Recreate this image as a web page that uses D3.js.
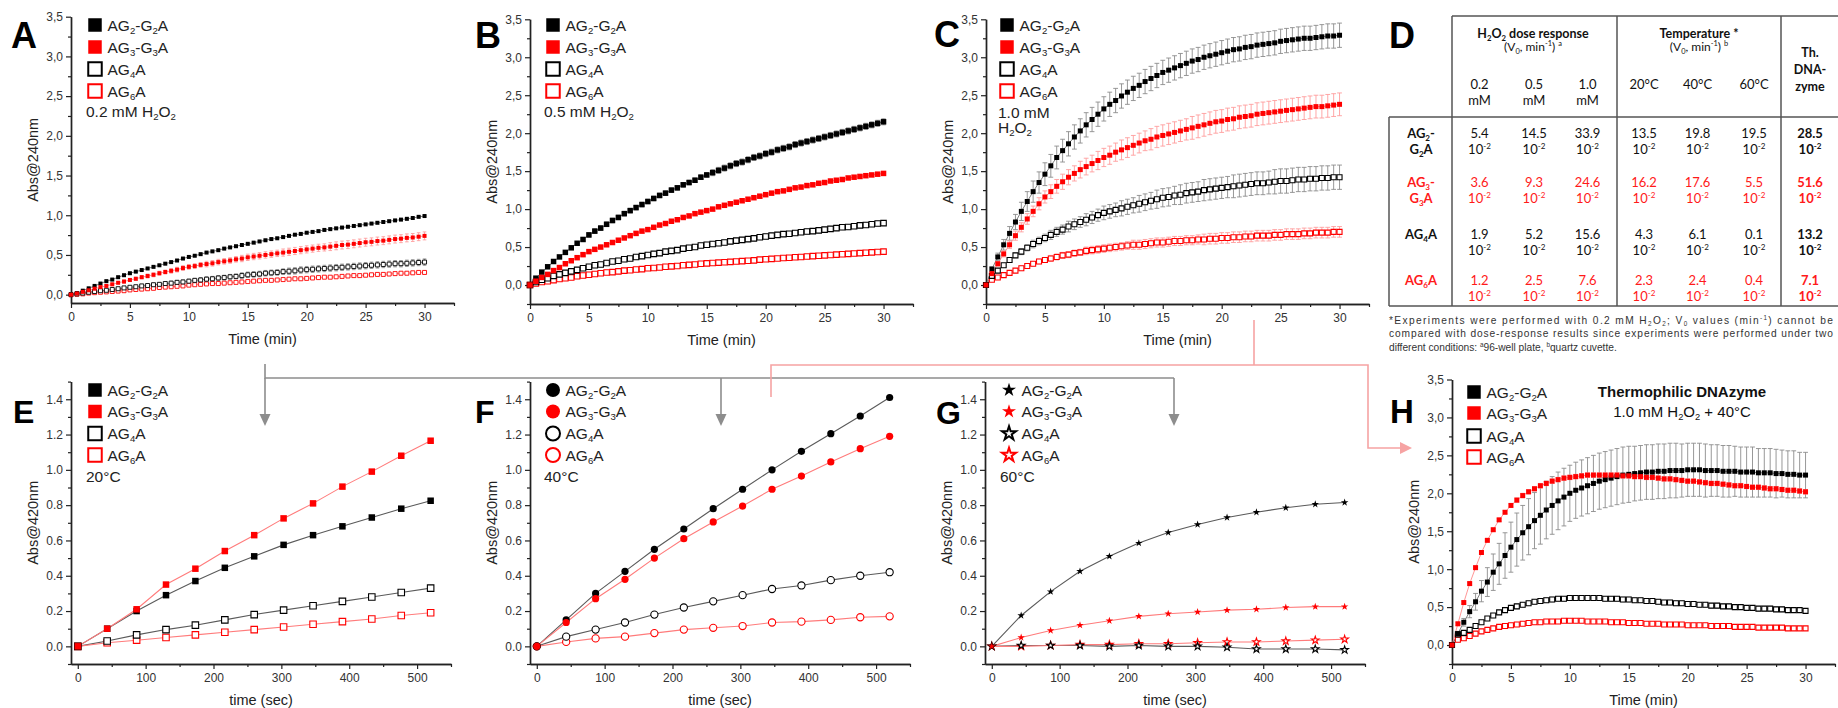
<!DOCTYPE html>
<html><head><meta charset="utf-8">
<script src="https://cdn.jsdelivr.net/npm/d3@7/dist/d3.min.js"></script>
<style>
body{margin:0;background:#fff;}
svg{display:block;font-family:"Liberation Sans",Arial,sans-serif;}
</style></head><body>
<svg id="fig" width="1838" height="708"></svg>
<script>
// ---------- data ----------
const seriesNames = ["AG{_2}-G{_2}A", "AG{_3}-G{_3}A", "AG{_4}A", "AG{_6}A"];

const tMin = [0,0.5,1,1.5,2,2.5,3,3.5,4,4.5,5,5.5,6,6.5,7,7.5,8,8.5,9,9.5,10,10.5,11,11.5,12,12.5,13,13.5,14,14.5,15,
  15.5,16,16.5,17,17.5,18,18.5,19,19.5,20,20.5,21,21.5,22,22.5,23,23.5,24,24.5,25,25.5,26,26.5,27,27.5,28,28.5,29,29.5,30];
const tSec = [0,43.3,86.7,130,173.3,216.7,260,303.3,346.7,390,433.3,476.7,520];

const minTicks = [0,5,10,15,20,25,30];
const minMinor = [2.5,7.5,12.5,17.5,22.5,27.5,32.5];
const absTicks = [0,0.5,1,1.5,2,2.5,3,3.5];
const absTickLabels = ["0,0","0,5","1,0","1,5","2,0","2,5","3,0","3,5"];
const absMinor = [-0.25,0.25,0.75,1.25,1.75,2.25,2.75,3.25];
const secTicks = [0,100,200,300,400,500];
const secMinor = [50,150,250,350,450,550];
const abs420Ticks = [0,0.2,0.4,0.6,0.8,1.0,1.2,1.4];
const abs420TickLabels = ["0.0","0.2","0.4","0.6","0.8","1.0","1.2","1.4"];
const abs420Minor = [-0.1,0.1,0.3,0.5,0.7,0.9,1.1,1.3,1.5];

// A: 0.2 mM H2O2
const A_AG2 = [0,0.02,0.05,0.08,0.11,0.14,0.17,0.19,0.22,0.245,0.27,
  0.29,0.31,0.33,0.35,0.37,0.39,0.41,0.43,0.455,0.475,
  0.49,0.51,0.53,0.545,0.56,0.58,0.595,0.61,0.625,0.64,
  0.655,0.67,0.685,0.70,0.71,0.725,0.74,0.755,0.765,0.78,
  0.79,0.80,0.815,0.825,0.835,0.845,0.855,0.865,0.875,0.885,
  0.895,0.905,0.915,0.925,0.935,0.945,0.955,0.965,0.98,0.99];
const A_AG3 = [0,0.015,0.035,0.055,0.075,0.095,0.11,0.13,0.15,0.165,0.185,
  0.20,0.22,0.235,0.25,0.27,0.285,0.30,0.315,0.335,0.35,
  0.36,0.375,0.385,0.395,0.41,0.42,0.43,0.445,0.455,0.47,
  0.48,0.49,0.50,0.51,0.52,0.53,0.54,0.55,0.56,0.57,
  0.58,0.59,0.595,0.605,0.615,0.625,0.63,0.64,0.65,0.66,
  0.665,0.675,0.68,0.69,0.70,0.705,0.715,0.72,0.73,0.74];
const A_AG4 = [0,0.01,0.02,0.03,0.04,0.05,0.055,0.065,0.075,0.085,0.093,
  0.10,0.11,0.115,0.125,0.13,0.14,0.145,0.155,0.16,0.17,
  0.18,0.185,0.195,0.20,0.21,0.215,0.225,0.23,0.24,0.25,
  0.255,0.26,0.27,0.275,0.28,0.29,0.295,0.30,0.31,0.315,
  0.32,0.325,0.33,0.335,0.34,0.345,0.35,0.355,0.36,0.365,
  0.37,0.375,0.38,0.385,0.39,0.39,0.395,0.40,0.405,0.41];
const A_AG6 = [0,0.005,0.01,0.02,0.025,0.03,0.035,0.04,0.045,0.05,0.06,
  0.065,0.07,0.075,0.08,0.09,0.095,0.10,0.105,0.11,0.12,
  0.125,0.13,0.135,0.14,0.14,0.145,0.15,0.155,0.16,0.165,
  0.17,0.175,0.18,0.18,0.185,0.19,0.195,0.20,0.20,0.205,
  0.21,0.215,0.22,0.22,0.225,0.23,0.235,0.24,0.24,0.245,
  0.25,0.255,0.255,0.26,0.265,0.27,0.27,0.275,0.28,0.28];
const A_AG2_err = [0,0.005,0.005,0.005,0.005,0.01,0.01,0.01,0.01,0.01,0.01,
  0.01,0.01,0.01,0.01,0.01,0.01,0.01,0.01,0.01,0.01,
  0.01,0.01,0.01,0.01,0.01,0.01,0.01,0.01,0.01,0.01,
  0.01,0.01,0.01,0.01,0.01,0.01,0.01,0.01,0.01,0.01,
  0.01,0.01,0.01,0.01,0.01,0.01,0.01,0.01,0.01,0.01,
  0.01,0.01,0.01,0.01,0.01,0.01,0.01,0.01,0.01,0.01];
const A_AG3_err = [0,0.005,0.005,0.01,0.01,0.01,0.015,0.015,0.015,0.02,0.02,
  0.02,0.02,0.025,0.025,0.025,0.025,0.03,0.03,0.03,0.03,
  0.03,0.03,0.035,0.035,0.035,0.035,0.035,0.035,0.04,0.04,
  0.04,0.04,0.04,0.04,0.04,0.045,0.045,0.045,0.045,0.045,
  0.045,0.045,0.045,0.05,0.05,0.05,0.05,0.05,0.05,0.05,
  0.05,0.05,0.05,0.05,0.05,0.05,0.05,0.05,0.05,0.05];
const A_AG4_err = [0,0.005,0.005,0.005,0.01,0.01,0.01,0.01,0.015,0.015,0.015,
  0.015,0.02,0.02,0.02,0.02,0.02,0.025,0.025,0.025,0.025,
  0.025,0.03,0.03,0.03,0.03,0.03,0.03,0.03,0.035,0.035,
  0.035,0.035,0.035,0.035,0.035,0.035,0.04,0.04,0.04,0.04,
  0.04,0.04,0.04,0.04,0.04,0.04,0.04,0.04,0.04,0.04,
  0.04,0.04,0.04,0.04,0.04,0.04,0.04,0.04,0.04,0.04];
const A_AG6_err = [0,0.005,0.005,0.005,0.005,0.005,0.005,0.005,0.005,0.005,0.005,
  0.01,0.01,0.01,0.01,0.01,0.01,0.01,0.01,0.01,0.01,
  0.01,0.01,0.01,0.01,0.01,0.01,0.01,0.01,0.01,0.01,
  0.015,0.015,0.015,0.015,0.015,0.015,0.015,0.015,0.015,0.015,
  0.015,0.015,0.015,0.015,0.015,0.015,0.015,0.015,0.015,0.015,
  0.02,0.02,0.02,0.02,0.02,0.02,0.02,0.02,0.02,0.02];

// B: 0.5 mM H2O2
const B_AG2 = [0,0.09,0.17,0.24,0.31,0.37,0.43,0.49,0.55,0.60,0.66,
  0.71,0.75,0.80,0.85,0.89,0.94,0.98,1.02,1.06,1.10,
  1.14,1.18,1.21,1.25,1.28,1.32,1.35,1.38,1.42,1.45,
  1.48,1.51,1.54,1.57,1.60,1.62,1.65,1.68,1.70,1.73,
  1.75,1.78,1.80,1.82,1.85,1.87,1.89,1.91,1.93,1.95,
  1.97,1.99,2.01,2.03,2.05,2.07,2.09,2.11,2.13,2.15];
const B_AG3 = [0,0.05,0.10,0.14,0.19,0.23,0.28,0.32,0.36,0.40,0.44,
  0.47,0.50,0.53,0.56,0.59,0.62,0.65,0.68,0.71,0.73,
  0.76,0.79,0.81,0.84,0.86,0.89,0.91,0.94,0.96,0.98,
  1.00,1.03,1.05,1.07,1.09,1.11,1.13,1.15,1.17,1.19,
  1.21,1.23,1.24,1.26,1.28,1.29,1.31,1.32,1.34,1.35,
  1.37,1.38,1.39,1.41,1.42,1.43,1.44,1.45,1.46,1.47];
const B_AG4 = [0,0.04,0.07,0.09,0.12,0.14,0.16,0.18,0.20,0.22,0.24,
  0.26,0.27,0.29,0.31,0.32,0.34,0.35,0.37,0.38,0.395,
  0.41,0.42,0.44,0.45,0.46,0.48,0.49,0.50,0.52,0.53,
  0.54,0.55,0.56,0.575,0.585,0.595,0.605,0.615,0.63,0.64,
  0.65,0.66,0.67,0.675,0.685,0.695,0.705,0.71,0.72,0.73,
  0.74,0.75,0.76,0.765,0.775,0.785,0.79,0.80,0.81,0.815];
const B_AG6 = [0,0.02,0.04,0.05,0.065,0.08,0.09,0.10,0.115,0.125,0.135,
  0.145,0.155,0.165,0.17,0.18,0.19,0.195,0.205,0.21,0.22,
  0.225,0.23,0.24,0.245,0.25,0.26,0.265,0.27,0.28,0.285,
  0.29,0.295,0.30,0.305,0.31,0.315,0.32,0.325,0.335,0.34,
  0.345,0.35,0.355,0.36,0.365,0.37,0.375,0.38,0.385,0.39,
  0.395,0.40,0.405,0.41,0.415,0.42,0.425,0.43,0.435,0.44];
const B_AG2_err = [0,0.01,0.01,0.01,0.02,0.02,0.02,0.02,0.02,0.02,0.03,
  0.03,0.03,0.03,0.03,0.03,0.03,0.03,0.03,0.03,0.03,
  0.03,0.03,0.03,0.03,0.03,0.03,0.03,0.03,0.03,0.03,
  0.04,0.04,0.04,0.04,0.04,0.04,0.04,0.04,0.04,0.04,
  0.04,0.04,0.04,0.04,0.04,0.04,0.04,0.04,0.04,0.04,
  0.04,0.04,0.04,0.04,0.04,0.04,0.04,0.04,0.04,0.04];
const B_AG3_err = [0,0.01,0.01,0.01,0.01,0.01,0.01,0.01,0.01,0.01,0.01,
  0.01,0.01,0.01,0.01,0.01,0.01,0.01,0.01,0.01,0.01,
  0.01,0.01,0.01,0.01,0.01,0.01,0.01,0.01,0.01,0.01,
  0.015,0.015,0.015,0.015,0.015,0.015,0.015,0.015,0.015,0.015,
  0.015,0.015,0.015,0.015,0.015,0.015,0.015,0.015,0.015,0.015,
  0.015,0.015,0.015,0.015,0.015,0.015,0.015,0.015,0.015,0.015];
const B_AG4_err = [0,0.01,0.01,0.01,0.01,0.01,0.01,0.01,0.01,0.01,0.01,
  0.02,0.02,0.02,0.02,0.02,0.02,0.02,0.02,0.02,0.02,
  0.02,0.02,0.02,0.02,0.02,0.02,0.02,0.02,0.02,0.02,
  0.03,0.03,0.03,0.03,0.03,0.03,0.03,0.03,0.03,0.03,
  0.03,0.03,0.03,0.03,0.03,0.03,0.03,0.03,0.03,0.03,
  0.03,0.03,0.03,0.03,0.03,0.03,0.03,0.03,0.03,0.03];
const B_AG6_err = [0,0.01,0.01,0.01,0.01,0.01,0.01,0.01,0.01,0.01,0.01,
  0.01,0.01,0.01,0.01,0.01,0.01,0.01,0.01,0.01,0.01,
  0.015,0.015,0.015,0.015,0.015,0.015,0.015,0.015,0.015,0.015,
  0.015,0.015,0.015,0.015,0.015,0.015,0.015,0.015,0.015,0.015,
  0.02,0.02,0.02,0.02,0.02,0.02,0.02,0.02,0.02,0.02,
  0.02,0.02,0.02,0.02,0.02,0.02,0.02,0.02,0.02,0.02];

// C: 1.0 mM H2O2
const C_AG2 = [0,0.21,0.37,0.53,0.68,0.83,0.97,1.10,1.23,1.35,1.46,
  1.57,1.68,1.77,1.86,1.95,2.03,2.11,2.18,2.25,2.32,
  2.38,2.43,2.49,2.54,2.59,2.63,2.68,2.72,2.76,2.80,
  2.83,2.86,2.89,2.92,2.95,2.97,3.00,3.02,3.04,3.06,
  3.08,3.10,3.11,3.13,3.14,3.16,3.17,3.18,3.19,3.21,
  3.22,3.23,3.24,3.25,3.25,3.26,3.27,3.28,3.28,3.29];
const C_AG3 = [0,0.15,0.28,0.41,0.53,0.65,0.76,0.87,0.97,1.07,1.16,
  1.23,1.30,1.36,1.42,1.47,1.52,1.56,1.60,1.64,1.68,
  1.71,1.75,1.78,1.81,1.84,1.87,1.90,1.92,1.95,1.97,
  1.99,2.01,2.03,2.05,2.07,2.09,2.11,2.13,2.15,2.16,
  2.18,2.19,2.21,2.22,2.23,2.25,2.26,2.27,2.28,2.29,
  2.30,2.31,2.32,2.33,2.34,2.35,2.35,2.36,2.37,2.38];
const C_AG4 = [0,0.12,0.19,0.26,0.33,0.39,0.44,0.49,0.54,0.58,0.62,
  0.66,0.70,0.73,0.77,0.80,0.83,0.86,0.89,0.92,0.95,
  0.97,0.99,1.01,1.03,1.05,1.07,1.09,1.11,1.13,1.15,
  1.16,1.18,1.19,1.21,1.22,1.23,1.25,1.26,1.27,1.28,
  1.29,1.30,1.31,1.32,1.33,1.34,1.34,1.35,1.36,1.37,
  1.37,1.38,1.39,1.39,1.40,1.40,1.41,1.41,1.42,1.42];
const C_AG6 = [0,0.07,0.10,0.13,0.16,0.19,0.22,0.25,0.28,0.31,0.33,
  0.35,0.37,0.39,0.40,0.42,0.43,0.45,0.46,0.47,0.48,
  0.49,0.50,0.51,0.52,0.53,0.53,0.54,0.55,0.56,0.56,
  0.57,0.58,0.58,0.59,0.59,0.60,0.60,0.61,0.61,0.62,
  0.62,0.63,0.63,0.64,0.64,0.65,0.65,0.65,0.66,0.66,
  0.67,0.67,0.67,0.68,0.68,0.69,0.69,0.69,0.70,0.70];
const C_AG2_err = [0,0.03,0.05,0.07,0.09,0.10,0.12,0.13,0.14,0.14,0.15,
  0.15,0.15,0.15,0.16,0.16,0.16,0.16,0.16,0.16,0.16,
  0.16,0.16,0.16,0.16,0.16,0.16,0.16,0.16,0.16,0.16,
  0.16,0.16,0.16,0.16,0.16,0.16,0.16,0.16,0.16,0.16,
  0.16,0.16,0.16,0.16,0.16,0.16,0.16,0.16,0.16,0.16,
  0.16,0.16,0.16,0.16,0.16,0.16,0.16,0.16,0.16,0.16];
const C_AG3_err = [0,0.02,0.03,0.04,0.05,0.06,0.06,0.07,0.07,0.08,0.08,
  0.09,0.09,0.10,0.10,0.10,0.11,0.11,0.11,0.12,0.12,
  0.12,0.12,0.13,0.13,0.13,0.13,0.13,0.14,0.14,0.14,
  0.14,0.14,0.14,0.14,0.15,0.15,0.15,0.15,0.15,0.15,
  0.15,0.15,0.15,0.15,0.15,0.15,0.15,0.15,0.15,0.15,
  0.15,0.15,0.15,0.15,0.15,0.15,0.15,0.15,0.15,0.15];
const C_AG4_err = [0,0.01,0.02,0.02,0.03,0.03,0.04,0.04,0.05,0.05,0.05,
  0.06,0.06,0.06,0.07,0.07,0.07,0.08,0.08,0.08,0.09,
  0.09,0.09,0.10,0.10,0.10,0.11,0.11,0.11,0.12,0.12,
  0.12,0.12,0.13,0.13,0.13,0.13,0.14,0.14,0.14,0.14,
  0.14,0.15,0.15,0.15,0.15,0.15,0.15,0.15,0.16,0.16,
  0.16,0.16,0.16,0.16,0.16,0.16,0.16,0.16,0.16,0.16];
const C_AG6_err = [0,0.01,0.01,0.02,0.02,0.02,0.03,0.03,0.03,0.03,0.03,
  0.04,0.04,0.04,0.04,0.04,0.04,0.05,0.05,0.05,0.05,
  0.05,0.05,0.05,0.05,0.06,0.06,0.06,0.06,0.06,0.06,
  0.06,0.06,0.06,0.06,0.06,0.06,0.07,0.07,0.07,0.07,
  0.07,0.07,0.07,0.07,0.07,0.07,0.07,0.07,0.07,0.07,
  0.07,0.07,0.07,0.07,0.07,0.07,0.07,0.07,0.07,0.07];

// E, F, G: Abs@420nm vs time (sec)
const E_AG2 = [0,0.10,0.20,0.29,0.37,0.445,0.51,0.575,0.63,0.68,0.73,0.78,0.825];
const E_AG3 = [0,0.10,0.21,0.35,0.44,0.54,0.63,0.725,0.81,0.905,0.99,1.08,1.165];
const E_AG4 = [0,0.03,0.065,0.095,0.12,0.15,0.18,0.205,0.23,0.255,0.28,0.305,0.33];
const E_AG6 = [0,0.02,0.035,0.05,0.065,0.08,0.095,0.11,0.125,0.14,0.155,0.175,0.19];
const F_AG2 = [0,0.15,0.30,0.425,0.55,0.665,0.78,0.89,1.0,1.105,1.205,1.305,1.41];
const F_AG3 = [0,0.135,0.27,0.38,0.50,0.61,0.705,0.795,0.89,0.965,1.045,1.12,1.19];
const F_AG4 = [0,0.055,0.095,0.135,0.18,0.22,0.255,0.29,0.325,0.345,0.375,0.40,0.42];
const F_AG6 = [0,0.025,0.045,0.055,0.075,0.095,0.105,0.115,0.135,0.14,0.15,0.165,0.17];
const G_AG2 = [0,0.175,0.31,0.425,0.51,0.585,0.645,0.69,0.73,0.76,0.785,0.805,0.815];
const G_AG3 = [0,0.05,0.09,0.12,0.145,0.17,0.185,0.195,0.205,0.21,0.22,0.225,0.225];
const G_AG4 = [0,0.005,0.005,0.005,0,0.005,0,0,-0.005,-0.015,-0.015,-0.015,-0.02];
const G_AG6 = [0,0,0.005,0.01,0.01,0.015,0.015,0.02,0.025,0.025,0.03,0.035,0.04];

// H: thermophilic DNAzyme, 1.0 mM H2O2 + 40°C
const H_AG2 = [0,0.15,0.30,0.44,0.57,0.71,0.83,0.96,1.07,1.18,1.29,
  1.39,1.48,1.56,1.64,1.71,1.78,1.84,1.90,1.95,2.00,
  2.04,2.07,2.10,2.13,2.16,2.18,2.20,2.22,2.24,2.25,
  2.26,2.27,2.28,2.28,2.29,2.29,2.30,2.30,2.30,2.31,
  2.31,2.31,2.30,2.30,2.30,2.29,2.29,2.29,2.28,2.28,
  2.28,2.27,2.27,2.27,2.26,2.26,2.25,2.25,2.24,2.24];
const H_AG3 = [0,0.28,0.56,0.81,1.02,1.22,1.38,1.52,1.65,1.75,1.84,
  1.91,1.97,2.02,2.06,2.10,2.13,2.16,2.18,2.20,2.21,
  2.22,2.23,2.24,2.24,2.24,2.24,2.24,2.24,2.23,2.23,
  2.22,2.22,2.21,2.21,2.20,2.19,2.19,2.18,2.17,2.16,
  2.16,2.15,2.14,2.13,2.13,2.12,2.11,2.10,2.10,2.09,
  2.08,2.08,2.07,2.06,2.06,2.05,2.04,2.04,2.03,2.02];
const H_AG4 = [0,0.14,0.16,0.20,0.25,0.30,0.35,0.39,0.43,0.46,0.49,
  0.51,0.53,0.55,0.57,0.58,0.59,0.60,0.61,0.61,0.62,
  0.62,0.62,0.62,0.62,0.62,0.61,0.61,0.61,0.60,0.60,
  0.59,0.59,0.58,0.58,0.57,0.56,0.56,0.55,0.55,0.54,
  0.54,0.53,0.53,0.52,0.52,0.51,0.51,0.50,0.50,0.49,
  0.49,0.48,0.48,0.48,0.47,0.47,0.46,0.46,0.46,0.45];
const H_AG6 = [0,0.07,0.09,0.12,0.15,0.18,0.20,0.22,0.24,0.25,0.26,
  0.27,0.28,0.29,0.30,0.30,0.31,0.31,0.31,0.32,0.32,
  0.32,0.32,0.31,0.31,0.31,0.31,0.30,0.30,0.30,0.29,
  0.29,0.29,0.28,0.28,0.28,0.27,0.27,0.27,0.27,0.26,
  0.26,0.26,0.26,0.25,0.25,0.25,0.25,0.24,0.24,0.24,
  0.24,0.23,0.23,0.23,0.23,0.23,0.22,0.22,0.22,0.22];
const H_AG2_err = [0,0.03,0.05,0.08,0.11,0.14,0.19,0.24,0.27,0.30,0.33,
  0.35,0.36,0.37,0.37,0.38,0.38,0.38,0.38,0.38,0.37,
  0.37,0.37,0.37,0.37,0.37,0.37,0.37,0.37,0.37,0.37,
  0.36,0.36,0.36,0.36,0.36,0.36,0.36,0.36,0.35,0.35,
  0.35,0.35,0.35,0.34,0.34,0.34,0.34,0.33,0.33,0.33,
  0.33,0.32,0.32,0.32,0.32,0.31,0.31,0.31,0.30,0.30];
const H_AG3_err = [0,0.02,0.02,0.02,0.02,0.02,0.02,0.02,0.02,0.02,0.02,
  0.03,0.03,0.03,0.03,0.03,0.03,0.03,0.03,0.03,0.03,
  0.03,0.03,0.03,0.03,0.03,0.03,0.03,0.03,0.03,0.03,
  0.03,0.03,0.03,0.03,0.03,0.03,0.03,0.03,0.03,0.03,
  0.03,0.03,0.03,0.03,0.03,0.03,0.03,0.03,0.03,0.03,
  0.03,0.03,0.03,0.03,0.03,0.03,0.03,0.03,0.03,0.03];
const H_AG4_err = [0,0.02,0.02,0.02,0.02,0.02,0.02,0.02,0.02,0.02,0.02,
  0.03,0.03,0.03,0.03,0.03,0.03,0.03,0.03,0.03,0.03,
  0.03,0.03,0.03,0.03,0.03,0.03,0.03,0.03,0.03,0.03,
  0.03,0.03,0.03,0.03,0.03,0.03,0.03,0.03,0.03,0.03,
  0.03,0.03,0.03,0.03,0.03,0.03,0.03,0.03,0.03,0.03,
  0.03,0.03,0.03,0.03,0.03,0.03,0.03,0.03,0.03,0.03];
const H_AG6_err = [0,0.01,0.01,0.01,0.01,0.01,0.01,0.01,0.01,0.01,0.01,
  0.02,0.02,0.02,0.02,0.02,0.02,0.02,0.02,0.02,0.02,
  0.02,0.02,0.02,0.02,0.02,0.02,0.02,0.02,0.02,0.02,
  0.02,0.02,0.02,0.02,0.02,0.02,0.02,0.02,0.02,0.02,
  0.02,0.02,0.02,0.02,0.02,0.02,0.02,0.02,0.02,0.02,
  0.02,0.02,0.02,0.02,0.02,0.02,0.02,0.02,0.02,0.02];

// D: table of V0 values (x 10^-2)
const tableRowLabels = [["AG{_2}-", "G{_2}A"], ["AG{_3}-", "G{_3}A"], ["AG{_4}A"], ["AG{_6}A"]];
const doseCols = [["0.2", "mM"], ["0.5", "mM"], ["1.0", "mM"]];
const tempCols = ["20°C", "40°C", "60°C"];
const doseVals = [[5.4, 14.5, 33.9], [3.6, 9.3, 24.6], [1.9, 5.2, 15.6], [1.2, 2.5, 7.6]];
const tempVals = [[13.5, 19.8, 19.5], [16.2, 17.6, 5.5], [4.3, 6.1, 0.1], [2.3, 2.4, 0.4]];
const thermoVals = [28.5, 51.6, 13.2, 7.1];
const footnote = [
  "*Experiments were performed with 0.2 mM H{_2}O{_2}; V{_0} values (min{^-1}) cannot be",
  "compared with dose-response results since experiments were performed under two",
  "different conditions: {^a}96-well plate, {^b}quartz cuvette."
];

// ---------- drawing ----------
const svg = d3.select("#fig");
svg.append("rect").attr("width", 1838).attr("height", 708).attr("fill", "#fff");

const RED = "#ff0000";
const colors = ["#000", RED, "#000", RED];
const filled = [true, true, false, false];
const lineCols = ["#5a5a5a", "#ff7b7b", "#5a5a5a", "#ff7b7b"];
const errCols = ["#8c8c8c", "#ff9d9d", "#8c8c8c", "#ff9d9d"];

// text with {_x} subscripts and {^x} superscripts
function rich(sel, str, fs) {
  const parts = str.split(/(\{[_^][^}]*\})/).filter(s => s.length);
  let off = 0;
  parts.forEach(p => {
    let target = 0, txt = p, small = false;
    if (p[0] === "{") {
      target = p[1] === "_" ? fs * 0.22 : -fs * 0.4;
      txt = p.slice(2, -1);
      small = true;
    }
    const t = sel.append("tspan").attr("dy", target - off).text(txt);
    if (small) t.attr("font-size", fs * 0.62);
    off = target;
  });
  return sel;
}

function symPath(kind, w) {
  if (kind === "square") return d3.symbol(d3.symbolSquare, w * w)();
  if (kind === "circle") return d3.symbol(d3.symbolCircle, Math.PI * w * w / 4)();
  const r = w / 1.9;
  return d3.symbol(d3.symbolStar, r * r / 0.8908)();
}

function drawMarker(g, kind, isFilled, color, w, sw, px, py) {
  g.append("path").attr("d", symPath(kind, w))
    .attr("transform", `translate(${px},${py})`)
    .attr("fill", isFilled ? color : "#fff")
    .attr("stroke", color).attr("stroke-width", isFilled ? 0 : sw);
}

function styleAxis(a) {
  a.select("path.domain").attr("stroke", "#222").attr("stroke-width", 1.4);
  a.selectAll(".tick line").attr("stroke", "#222").attr("stroke-width", 1.2);
  a.selectAll(".tick text").attr("font-size", 12).attr("fill", "#333")
    .attr("font-family", '"Liberation Sans",Arial,sans-serif');
}

function drawFrame(cfg, x, y) {
  const g = svg.append("g");
  const [x0, x1] = x.range();
  const minorX = cfg.xMinor.filter(v => v >= x.domain()[0] && v <= x.domain()[1]);
  const minorY = cfg.yMinor.filter(v => v >= y.domain()[0] && v <= y.domain()[1]);
  const xa1 = g.append("g").attr("transform", `translate(0,${cfg.yBot})`)
    .call(d3.axisBottom(x).tickValues(minorX).tickSize(3).tickSizeOuter(0).tickFormat(""));
  const xa2 = g.append("g").attr("transform", `translate(0,${cfg.yBot})`)
    .call(d3.axisBottom(x).tickValues(cfg.xTicks).tickSize(5).tickSizeOuter(0).tickPadding(4));
  const ya1 = g.append("g").attr("transform", `translate(${x0},0)`)
    .call(d3.axisLeft(y).tickValues(minorY).tickSize(3).tickSizeOuter(0).tickFormat(""));
  const ya2 = g.append("g").attr("transform", `translate(${x0},0)`)
    .call(d3.axisLeft(y).tickValues(cfg.yTicks).tickSize(5).tickSizeOuter(0).tickPadding(3)
      .tickFormat((d, i) => cfg.yLabels[i]));
  [xa1, xa2, ya1, ya2].forEach(styleAxis);

  g.append("text").attr("x", (x0 + x1) / 2).attr("y", cfg.yBot + 41)
    .attr("text-anchor", "middle").attr("font-size", 14.5).attr("fill", "#222").text(cfg.xTitle);
  g.append("text").attr("transform", `translate(${x0 - 33},${(cfg.yBot + cfg.yTop) / 2}) rotate(-90)`)
    .attr("text-anchor", "middle").attr("font-size", 14.5).attr("fill", "#222").text(cfg.yTitle);

  g.append("text").attr("x", cfg.letterX).attr("y", cfg.letterY)
    .attr("font-size", cfg.letterSize).attr("font-weight", "bold").attr("fill", "#000").text(cfg.letter);

  // legend
  const lg = g.append("g");
  seriesNames.forEach((nm, i) => {
    const cy = cfg.legendY[i];
    drawMarker(lg, cfg.kind, filled[i], colors[i], cfg.legendW, 2, cfg.legendX, cy);
    rich(lg.append("text").attr("x", cfg.legendX + 12.5).attr("y", cy + 5.5)
      .attr("font-size", 15.5).attr("fill", "#222"), nm, 15.5);
  });
  cfg.note.forEach((line, k) => {
    rich(lg.append("text").attr("x", cfg.legendX - 9).attr("y", cfg.noteY + k * 15 + 5.5)
      .attr("font-size", 15.5).attr("fill", "#222"), line, 15.5);
  });
  return g;
}

function drawSeries(g, cfg, x, y) {
  const times = cfg.times;
  // lines
  cfg.series.forEach((s, i) => {
    g.append("path").datum(s.vals)
      .attr("d", d3.line().x((d, k) => x(times[k])).y(d => y(d)))
      .attr("fill", "none").attr("stroke", lineCols[i]).attr("stroke-width", cfg.lineW);
  });
  // error bars
  cfg.series.forEach((s, i) => {
    if (!s.err) return;
    const eg = g.append("g").attr("stroke", errCols[i]).attr("stroke-width", 0.9).attr("fill", "none");
    s.vals.forEach((v, k) => {
      const e = s.err[k];
      if (!e) return;
      const px = x(times[k]), yt = y(v + e), yb = y(v - e);
      eg.append("line").attr("x1", px).attr("x2", px).attr("y1", yt).attr("y2", yb);
      eg.append("line").attr("x1", px - cfg.cap).attr("x2", px + cfg.cap).attr("y1", yt).attr("y2", yt);
      eg.append("line").attr("x1", px - cfg.cap).attr("x2", px + cfg.cap).attr("y1", yb).attr("y2", yb);
    });
  });
  // markers: open series first, then filled (red above black)
  [3, 2, 0, 1].forEach(i => {
    const s = cfg.series[i];
    const mg = g.append("g");
    s.vals.forEach((v, k) => drawMarker(mg, cfg.kind, filled[i], colors[i], cfg.markW, cfg.markSW, x(times[k]), y(v)));
  });
}

const kinetic = {times: tMin, xTicks: minTicks, xMinor: minMinor, yTicks: absTicks, yLabels: absTickLabels,
  yMinor: absMinor, xTitle: "Time (min)", yTitle: "Abs@240nm", kind: "square", legendW: 13.5, lineW: 0.8};
const temps = {times: tSec, xTicks: secTicks, xMinor: secMinor, yTicks: abs420Ticks, yLabels: abs420TickLabels,
  yMinor: abs420Minor, xTitle: "time (sec)", yTitle: "Abs@420nm", lineW: 1.1, markSW: 1.1, cap: 0};

const panels = [
  Object.assign({}, kinetic, {letter: "A", x0: 71, x1: 454, yTop: 16.7, yBot: 303, yDom: [-0.105, 3.5],
    letterX: 11, letterY: 48, letterSize: 36, legendX: 95, legendY: [25, 47, 69, 91], noteY: 111,
    note: ["0.2 mM H{_2}O{_2}"], markW: 4, markSW: 0.9, cap: 1.8,
    series: [{vals: A_AG2, err: A_AG2_err}, {vals: A_AG3, err: A_AG3_err}, {vals: A_AG4, err: A_AG4_err}, {vals: A_AG6, err: A_AG6_err}]}),
  Object.assign({}, kinetic, {letter: "B", x0: 530, x1: 913, yTop: 19.3, yBot: 304, yDom: [-0.25, 3.5],
    letterX: 475, letterY: 48, letterSize: 36, legendX: 553, legendY: [25, 47, 69, 91], noteY: 111,
    note: ["0.5 mM H{_2}O{_2}"], markW: 5.5, markSW: 1.1, cap: 2.2,
    series: [{vals: B_AG2, err: B_AG2_err}, {vals: B_AG3, err: B_AG3_err}, {vals: B_AG4, err: B_AG4_err}, {vals: B_AG6, err: B_AG6_err}]}),
  Object.assign({}, kinetic, {letter: "C", x0: 986, x1: 1369, yTop: 19.3, yBot: 304, yDom: [-0.25, 3.5],
    letterX: 934, letterY: 47, letterSize: 36, legendX: 1007, legendY: [25, 47, 69, 91], noteY: 112,
    note: ["1.0 mM", "H{_2}O{_2}"], markW: 5, markSW: 1.1, cap: 2.4,
    series: [{vals: C_AG2, err: C_AG2_err}, {vals: C_AG3, err: C_AG3_err}, {vals: C_AG4, err: C_AG4_err}, {vals: C_AG6, err: C_AG6_err}]}),
  Object.assign({}, kinetic, {letter: "H", x0: 1452, x1: 1835, yTop: 379.5, yBot: 664, yDom: [-0.25, 3.5],
    letterX: 1390, letterY: 423, letterSize: 33, legendX: 1474, legendY: [392, 413, 436, 457], noteY: 0,
    note: [], markW: 5, markSW: 1.1, cap: 2.4,
    series: [{vals: H_AG2, err: H_AG2_err}, {vals: H_AG3, err: H_AG3_err}, {vals: H_AG4, err: H_AG4_err}, {vals: H_AG6, err: H_AG6_err}]}),
  Object.assign({}, temps, {letter: "E", x0: 71, x1: 451, yTop: 381.6, yBot: 664, yDom: [-0.1, 1.5], xDom: [-10, 550],
    letterX: 13, letterY: 423, letterSize: 32, legendX: 95, legendY: [390, 411.5, 433.5, 455], noteY: 476,
    note: ["20°C"], kind: "square", legendW: 13.5, markW: 6.5,
    series: [{vals: E_AG2}, {vals: E_AG3}, {vals: E_AG4}, {vals: E_AG6}]}),
  Object.assign({}, temps, {letter: "F", x0: 530, x1: 910, yTop: 381.6, yBot: 664, yDom: [-0.1, 1.5], xDom: [-10, 550],
    letterX: 475, letterY: 423, letterSize: 32, legendX: 553, legendY: [390, 411.5, 433.5, 455], noteY: 476,
    note: ["40°C"], kind: "circle", legendW: 14, markW: 7.2,
    series: [{vals: F_AG2}, {vals: F_AG3}, {vals: F_AG4}, {vals: F_AG6}]}),
  Object.assign({}, temps, {letter: "G", x0: 985, x1: 1365, yTop: 381.6, yBot: 664, yDom: [-0.1, 1.5], xDom: [-10, 550],
    letterX: 936, letterY: 424, letterSize: 32, legendX: 1009, legendY: [390, 411.5, 433.5, 455], noteY: 476,
    note: ["60°C"], kind: "star", legendW: 14, markW: 7.5,
    series: [{vals: G_AG2}, {vals: G_AG3}, {vals: G_AG4}, {vals: G_AG6}]})
];

panels.forEach(cfg => {
  const x = d3.scaleLinear().domain(cfg.xDom || [0, 32.5]).range([cfg.x0, cfg.x1]);
  const y = d3.scaleLinear().domain(cfg.yDom).range([cfg.yBot, cfg.yTop]);
  const g = drawFrame(cfg, x, y);
  drawSeries(g, cfg, x, y);
});

// H title
const ht = svg.append("g").attr("text-anchor", "middle").attr("fill", "#111");
ht.append("text").attr("x", 1682).attr("y", 397).attr("font-size", 15).attr("font-weight", "bold").text("Thermophilic DNAzyme");
rich(ht.append("text").attr("x", 1682).attr("y", 416.5).attr("font-size", 15), "1.0 mM H{_2}O{_2} + 40°C", 15);

// ---------- table D ----------
const tg = svg.append("g").attr("font-family", "Lato, 'Open Sans', sans-serif");
tg.append("text").attr("x", 1389).attr("y", 48).attr("font-size", 36).attr("font-weight", "bold")
  .attr("font-family", '"Liberation Sans",Arial,sans-serif').text("D");
const TL = "#555";
const tLines = [
  [1452, 16, 1845, 16], [1389, 117, 1845, 117], [1389, 306, 1845, 306],
  [1389, 117, 1389, 306], [1452, 16, 1452, 306], [1617, 16, 1617, 306], [1781, 16, 1781, 306]
];
tLines.forEach(l => tg.append("line").attr("x1", l[0]).attr("y1", l[1]).attr("x2", l[2]).attr("y2", l[3])
  .attr("stroke", TL).attr("stroke-width", 1.5));

const hdr = tg.append("g").attr("text-anchor", "middle").attr("fill", "#111");
rich(hdr.append("text").attr("x", 1533).attr("y", 38).attr("font-size", 12.5).attr("font-weight", "bold"), "H{_2}O{_2} dose response", 12.5);
rich(hdr.append("text").attr("x", 1533).attr("y", 51).attr("font-size", 12), "(V{_0}, min{^-1}) {^a}", 12);
hdr.append("text").attr("x", 1699).attr("y", 38).attr("font-size", 12.5).attr("font-weight", "bold").text("Temperature *");
rich(hdr.append("text").attr("x", 1699).attr("y", 51).attr("font-size", 12), "(V{_0}, min{^-1}) {^b}", 12);
["Th.", "DNA-", "zyme"].forEach((s, k) => hdr.append("text").attr("x", 1810).attr("y", 57 + k * 17)
  .attr("font-size", 12.5).attr("font-weight", "bold").text(s));

const doseX = [1479.5, 1534, 1587.5], tempX = [1644, 1697.5, 1754], thX = 1810, labelX = 1421;
doseCols.forEach((c, j) => c.forEach((s, k) => hdr.append("text").attr("x", doseX[j]).attr("y", 89 + k * 16)
  .attr("font-size", 13).text(s)));
tempCols.forEach((s, j) => hdr.append("text").attr("x", tempX[j]).attr("y", 89).attr("font-size", 13).text(s));

const rowY = [138, 187, 239, 285];
const rowCol = ["#111", "#ff1a1a", "#111", "#ff1a1a"];
const f1 = d3.format(".1f");
tableRowLabels.forEach((lab, r) => {
  const rg = tg.append("g").attr("text-anchor", "middle").attr("fill", rowCol[r]);
  lab.forEach((s, k) => rich(rg.append("text").attr("x", labelX).attr("y", rowY[r] + k * 16)
    .attr("font-size", 13).attr("font-weight", "bold"), s, 13));
  const cell = (xx, v, bold) => {
    rg.append("text").attr("x", xx).attr("y", rowY[r]).attr("font-size", 13)
      .attr("font-weight", bold ? "bold" : "normal").text(f1(v));
    rich(rg.append("text").attr("x", xx).attr("y", rowY[r] + 16).attr("font-size", 13)
      .attr("font-weight", bold ? "bold" : "normal"), "10{^-2}", 13);
  };
  doseVals[r].forEach((v, j) => cell(doseX[j], v, false));
  tempVals[r].forEach((v, j) => cell(tempX[j], v, false));
  cell(thX, thermoVals[r], true);
});

footnote.forEach((s, k) => {
  const t = svg.append("text").attr("x", 1389).attr("y", 324 + k * 13.3).attr("font-size", 10.2).attr("fill", "#333");
  if (k < 2) t.attr("textLength", 444).attr("lengthAdjust", "spacing");
  rich(t, s, 10.2);
});

// ---------- connectors ----------
const GRAY = "#8d8d8d", PINK = "#f6a3a3";
const cg = svg.append("g").attr("fill", "none").attr("stroke-width", 1.6);
function arrowDown(xx, tipY, col) {
  svg.append("path").attr("d", `M${xx - 5.5},${tipY - 12}L${xx + 5.5},${tipY - 12}L${xx},${tipY}Z`).attr("fill", col);
}
cg.append("path").attr("stroke", GRAY).attr("d", "M265,364V378H1174");
[265, 721, 1174].forEach(xx => {
  cg.append("line").attr("stroke", GRAY).attr("x1", xx).attr("x2", xx).attr("y1", 378).attr("y2", 415);
  arrowDown(xx, 426, GRAY);
});
cg.append("path").attr("stroke", PINK).attr("d", "M1254,320V365");
cg.append("path").attr("stroke", PINK).attr("d", "M771,397V365H1368V448H1400");
svg.append("path").attr("d", "M1400,442L1412,448L1400,454Z").attr("fill", PINK);
</script>
</body></html>
